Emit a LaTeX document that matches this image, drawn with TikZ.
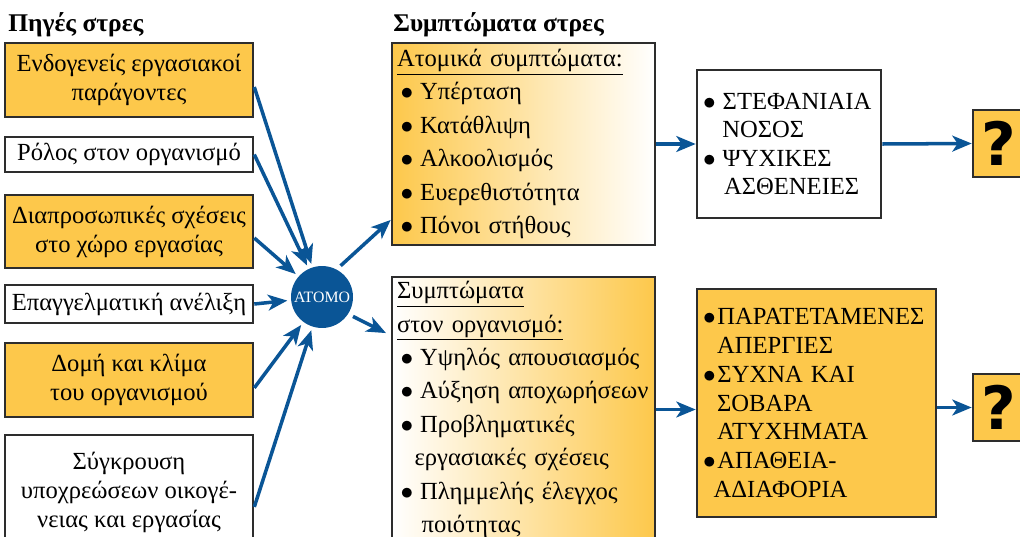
\documentclass[tikz,border=0pt]{standalone}
\usepackage{fontspec}
\setmainfont{Liberation Serif}
\newfontfamily\qfont{DejaVu Sans}
\usetikzlibrary{arrows.meta}
\definecolor{stressblue}{RGB}{10,85,150}
\definecolor{stressgold}{RGB}{253,200,75}
\definecolor{boxline}{RGB}{45,45,45}
\newcommand{\bul}{$\bullet$\hspace{4pt}}
\tikzset{
  srcbox/.style={draw=boxline, line width=1.5pt, inner sep=0pt, align=center,
    minimum width=4.96cm, font=\fontsize{14}{16.5}\selectfont},
  listbox/.style={draw=boxline, line width=1.5pt, inner ysep=0pt, align=left,
    font=\fontsize{14}{19}\selectfont},
  qbox/.style={draw=boxline, line width=1.5pt, fill=stressgold, inner sep=0pt,
    minimum width=1.04cm, minimum height=1.34cm, font=\qfont\bfseries\fontsize{34}{34}\selectfont},
  flow/.style={stressblue, line width=2pt, -{Stealth[length=11pt,width=9pt,inset=3pt]}},
}
\begin{document}
\begin{tikzpicture}[x=0.02cm,y=-0.02cm]
\useasboundingbox (0,0) rectangle (1020,537);
% titles
\node[anchor=base west, inner sep=0pt, font=\fontsize{14.5}{17}\selectfont\bfseries] (srctitle) at (8,32) {Πηγές στρες};
\node[anchor=base west, inner sep=0pt, font=\fontsize{14.5}{17}\selectfont\bfseries] (symtitle) at (393,32) {Συμπτώματα στρες};

% sources of stress
\node[srcbox, fill=stressgold, minimum height=1.48cm] (src1) at (129,80) {Ενδογενείς εργασιακοί\\παράγοντες};
\node[srcbox, fill=white, minimum height=0.7cm] (src2) at (129,154.5) {Ρόλος στον οργανισμό};
\node[srcbox, fill=stressgold, minimum height=1.46cm] (src3) at (129,231.5) {Διαπροσωπικές σχέσεις\\στο χώρο εργασίας};
\node[srcbox, fill=white, minimum height=0.76cm] (src4) at (129,304) {Επαγγελματική ανέλιξη};
\node[srcbox, fill=stressgold, minimum height=1.48cm] (src5) at (129,380) {Δομή και κλίμα\\του οργανισμού};
\node[srcbox, fill=white, minimum height=2.3cm] (src6) at (129,492.5) {Σύγκρουση\\υποχρεώσεων οικογέ-\\νειας και εργασίας};

% the person
\node[circle, fill=stressblue, minimum size=1.24cm, inner sep=0pt, text=white, font=\fontsize{9}{10}\selectfont] (atomo) at (322,297) {ΑΤΟΜΟ};

% symptoms
\node[listbox, left color=stressgold, right color=white, inner xsep=0.1cm, text width=5.06cm, minimum height=4.04cm] (symA) at (523.5,144)
  {\underline{Ατομικά συμπτώματα:}\\
   \hspace*{2pt}\bul Υπέρταση\\
   \hspace*{2pt}\bul Κατάθλιψη\\
   \hspace*{2pt}\bul Αλκοολισμός\\
   \hspace*{2pt}\bul Ευερεθιστότητα\\
   \hspace*{2pt}\bul Πόνοι στήθους};
\node[listbox, left color=white, right color=stressgold, inner xsep=0.1cm, text width=5.06cm, minimum height=5.3cm] (symB) at (523.5,409.5)
  {\underline{Συμπτώματα}\\
   \underline{στον οργανισμό:}\\
   \hspace*{2pt}\bul Υψηλός απουσιασμός\\
   \hspace*{2pt}\bul Αύξηση αποχωρήσεων\\
   \hspace*{2pt}\bul Προβληματικές\\
   \hspace*{10pt}εργασιακές σχέσεις\\
   \hspace*{2pt}\bul Πλημμελής έλεγχος\\
   \hspace*{14pt}ποιότητας};

% consequences
\node[listbox, fill=white, inner xsep=0.12cm, text width=3.44cm, minimum height=2.96cm, font=\fontsize{14}{16.2}\selectfont] (outA) at (789,144)
  {\bul ΣΤΕΦΑΝΙΑΙΑ\\
   \hspace*{11pt}ΝΟΣΟΣ\\
   \bul ΨΥΧΙΚΕΣ\\
   \hspace*{12pt}ΑΣΘΕΝΕΙΕΣ};
\node[listbox, fill=stressgold, inner xsep=0.12cm, text width=4.54cm, minimum height=4.56cm, font=\fontsize{14}{16.4}\selectfont] (outB) at (816.5,403)
  {$\bullet$\hspace{1pt}ΠΑΡΑΤΕΤΑΜΕΝΕΣ\\
   \hspace*{8pt}ΑΠΕΡΓΙΕΣ\\
   $\bullet$\hspace{1pt}ΣΥΧΝΑ ΚΑΙ\\
   \hspace*{8pt}ΣΟΒΑΡΑ\\
   \hspace*{8pt}ΑΤΥΧΗΜΑΤΑ\\
   $\bullet$\hspace{1pt}ΑΠΑΘΕΙΑ-\\
   \hspace*{6pt}ΑΔΙΑΦΟΡΙΑ};

\node[qbox] (qA) at (999,143.5) {?};
\node[qbox] (qB) at (999,407.5) {?};

% arrows
\draw[flow, shorten >=2pt] ([yshift=-4pt]src1.east) -- (atomo);
\draw[flow, shorten >=2pt] (src2.east) -- (atomo);
\draw[flow, shorten >=2pt] ([yshift=-3.7pt]src3.east) -- (atomo);
\draw[flow, shorten >=2pt] (src4.east) -- (atomo);
\draw[flow, shorten >=2pt] ([yshift=-4.5pt]src5.east) -- (atomo);
\draw[flow, shorten >=2pt] ([yshift=-8.2pt]src6.east) -- (atomo);
\draw[flow, shorten <=3pt] (atomo.62) -- ([yshift=15pt]symA.south west);
\draw[flow, shorten <=3pt, shorten >=3pt] (atomo.-33) -- ([yshift=-34pt]symB.north west);
\draw[flow] (symA.east) -- (outA.west);
\draw[flow] (symB.east) -- (symB.east -| outB.west);
\draw[flow] (outA.east) -- (qA.west);
\draw[flow] (outB.east |- qB.west) -- (qB.west);
\end{tikzpicture}
\end{document}
